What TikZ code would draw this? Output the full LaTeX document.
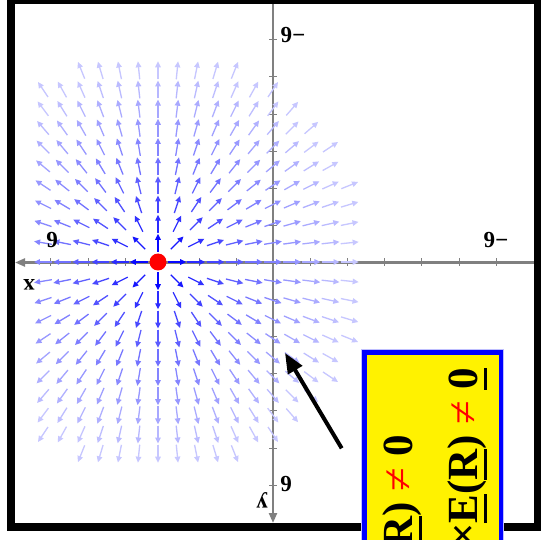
\documentclass[tikz,border=0pt]{standalone}
\usepackage{fontspec}
\setmainfont{Liberation Serif}
\usetikzlibrary{arrows.meta}
\newcommand\ulb[1]{\setbox0\hbox{#1}\rlap{\rule[-10pt]{\wd0}{3.5pt}}\box0}
\definecolor{axgray}{HTML}{808080}
\tikzset{
  fld/.style={line width=1.3pt,-{Triangle[length=6pt,width=5.5pt]}},
  axis/.style={draw=axgray,line width=2.2pt,-{Triangle[length=10pt,width=8pt]}},
  tick/.style={draw=axgray,line width=1pt},
  lbl/.style={font=\fontsize{23}{23}\selectfont\bfseries,inner sep=0pt,rotate=180},
  boxtxt/.style={font=\fontsize{43}{43}\selectfont\bfseries,inner sep=0pt,rotate=90,anchor=base east}
}
\begin{document}
\begin{tikzpicture}[x=1pt,y=-1pt]
\useasboundingbox (0,0) rectangle (541,540);
\clip (0,0) rectangle (541,540);
\fill[white] (0,0) rectangle (541,540);
% axes
\coordinate (xr) at (534,262.5);
\coordinate (xl) at (15,262.5);
\coordinate (yt) at (273,0);
\coordinate (yb) at (273,523);
\draw[axis] (xr) -- (xl);
\draw[axis] (yt) -- (yb);
\foreach \k in {-6,...,6}{
  \ifnum\k=0\else
  \draw[tick] ({273.5+37.1*\k},258.5) -- ++(0,8);
  \draw[tick] (269,{262.5+37.1*\k}) -- ++(8,0);
  \fi
}
% field
\foreach \i in {-6,...,10}{
  \foreach \j in {-10,...,10}{
    \pgfmathtruncatemacro\rr{\i*\i+\j*\j}
    \ifnum\rr<118 \ifnum\rr>0
      \pgfmathsetmacro\rad{sqrt(\rr)}
      \pgfmathsetmacro\ux{\i/\rad}
      \pgfmathsetmacro\uy{\j/\rad}
      \pgfmathsetmacro\fr{max(0.01,min(1,(\rad-1)/9))}
      \pgfmathsetmacro\blv{100-78*\fr^0.7}
      \draw[fld,draw=blue!\blv,fill=blue!\blv] ({158+19.17*\i-9*\ux},{262+19.17*\j-9*\uy}) -- ++({18*\ux},{18*\uy});
    \fi\fi
  }
}
\fill[red] (158,262) circle (8.5pt);
% labels
\node[lbl] (lt) at (293,35) {−6};
\node[lbl] (lr) at (496,240) {−6};
\node[lbl] (ll) at (52,240) {6};
\node[lbl] (lb) at (286,484) {6};
\node[lbl] (lx) at (29,285) {x};
\node[lbl] (ly) at (262,500) {y};
% frame
\draw[line width=8pt] (11,0) rectangle (538,527);
% pointer arrow
\coordinate (atail) at (341.7,448.3);
\coordinate (ahead) at (285,353);
\draw[line width=4pt,-{Triangle[length=20pt,width=16pt]}] (atail) -- (ahead);
% yellow box
\draw[blue!25,line width=0.8pt] (361.6,349.6) rectangle (503.4,560);
\fill[yellow] (362,350) rectangle (503,560);
\draw[blue,line width=4.5pt] (364.25,352.25) rectangle (500.75,570);
\node[boxtxt] (t1) at (412,435) {\ulb{E}(\ulb{R}) \textcolor{red}{\mdseries ≠} 0};
\node[boxtxt] (t2) at (477,368) {×\ulb{E}(\ulb{R}) \textcolor{red}{\mdseries ≠} \ulb{0}};
\end{tikzpicture}
\end{document}
